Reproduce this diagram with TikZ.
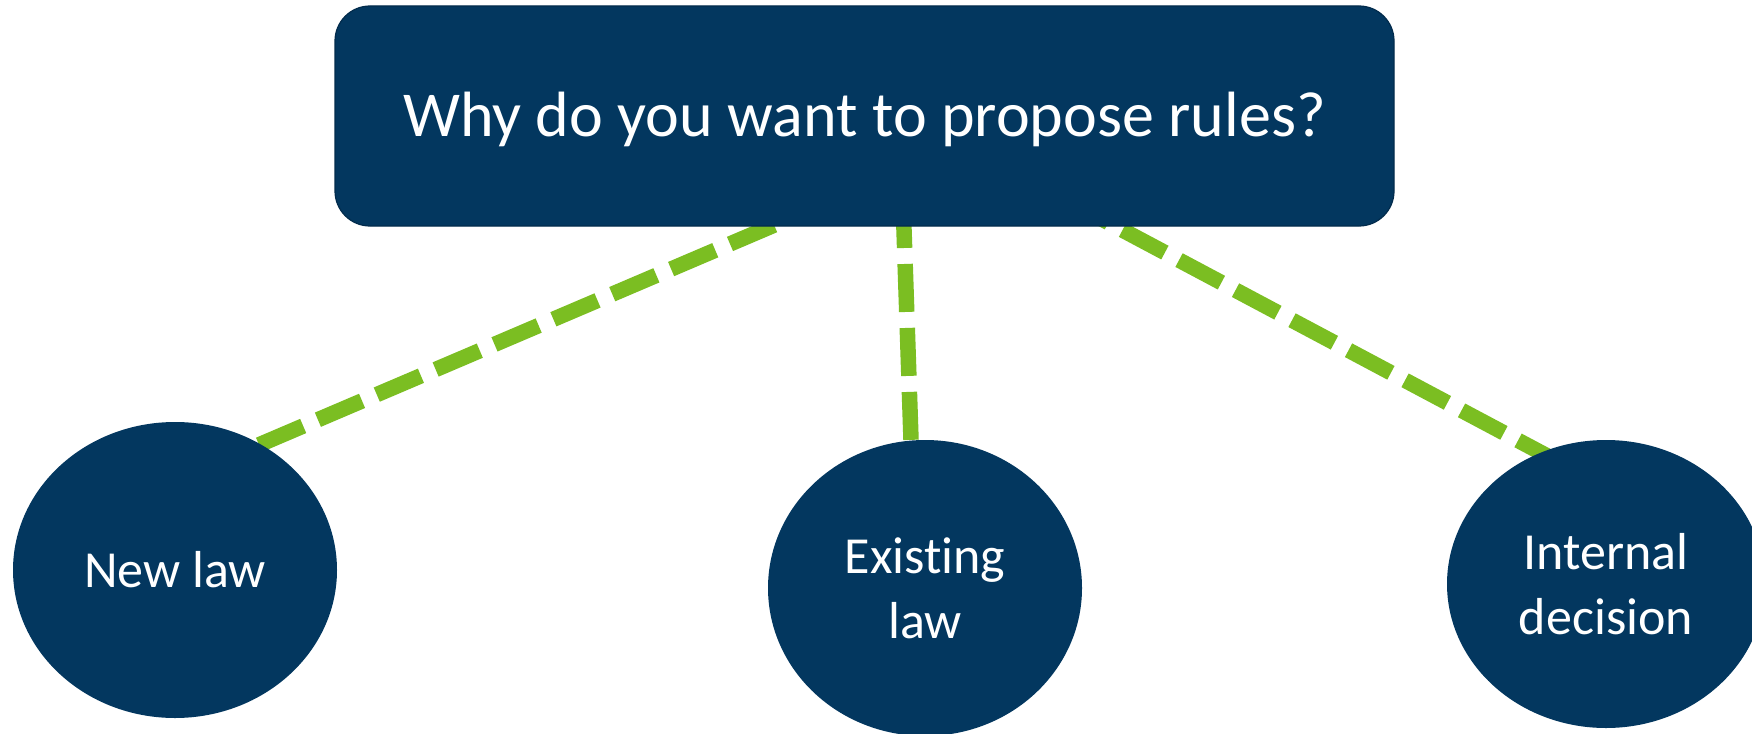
\documentclass[tikz,border=0pt]{standalone}
\usepackage{fontspec}
\setmainfont[Ligatures=NoCommon]{Carlito}
\usetikzlibrary{shapes.geometric}
\definecolor{navy}{HTML}{03375F}
\definecolor{navyedge}{HTML}{022B4C}
\definecolor{lime}{HTML}{7BBE22}
\tikzset{
  qbox/.style={draw=navyedge, line width=1.2pt, fill=navy, rounded corners=35pt, text=white, inner sep=0pt,
    text height=40pt, text depth=0pt, font=\fontsize{64}{77}\selectfont},
  circ/.style={ellipse, fill=navy, draw=none, text=white, inner sep=0pt, align=center,
    font=\fontsize{52}{65}\selectfont},
  link/.style={draw=lime, line width=15.5pt, dash pattern=on 48pt off 16pt}
}
\begin{document}
\begin{tikzpicture}[x=1pt,y=-1pt]
\useasboundingbox (0,0) rectangle (1752,733);
% connector end points (behind the nodes)
\coordinate (l1) at (833,200);
\coordinate (l2) at (200,470);
\coordinate (m1) at (903,200);
\coordinate (m2) at (912,470);
\coordinate (r1) at (1066,200);
\coordinate (r2) at (1600,484);
\draw[link] (l1) -- (l2);
\draw[link] (m1) -- (m2);
\draw[link] (r1) -- (r2);
\node[qbox, minimum width=1059pt, minimum height=220pt] (top) at (864.5,116) {Why do you want to propose rules?};
\node[circ, minimum width=324pt, minimum height=296pt] (new) at (175,570) {New law};
\node[circ, minimum width=314pt, minimum height=296pt] (exist) at (925,588) {Existing\\law};
\node[circ, minimum width=318pt, minimum height=288pt] (internal) at (1606,584) {Internal\\decision};
\end{tikzpicture}
\end{document}
